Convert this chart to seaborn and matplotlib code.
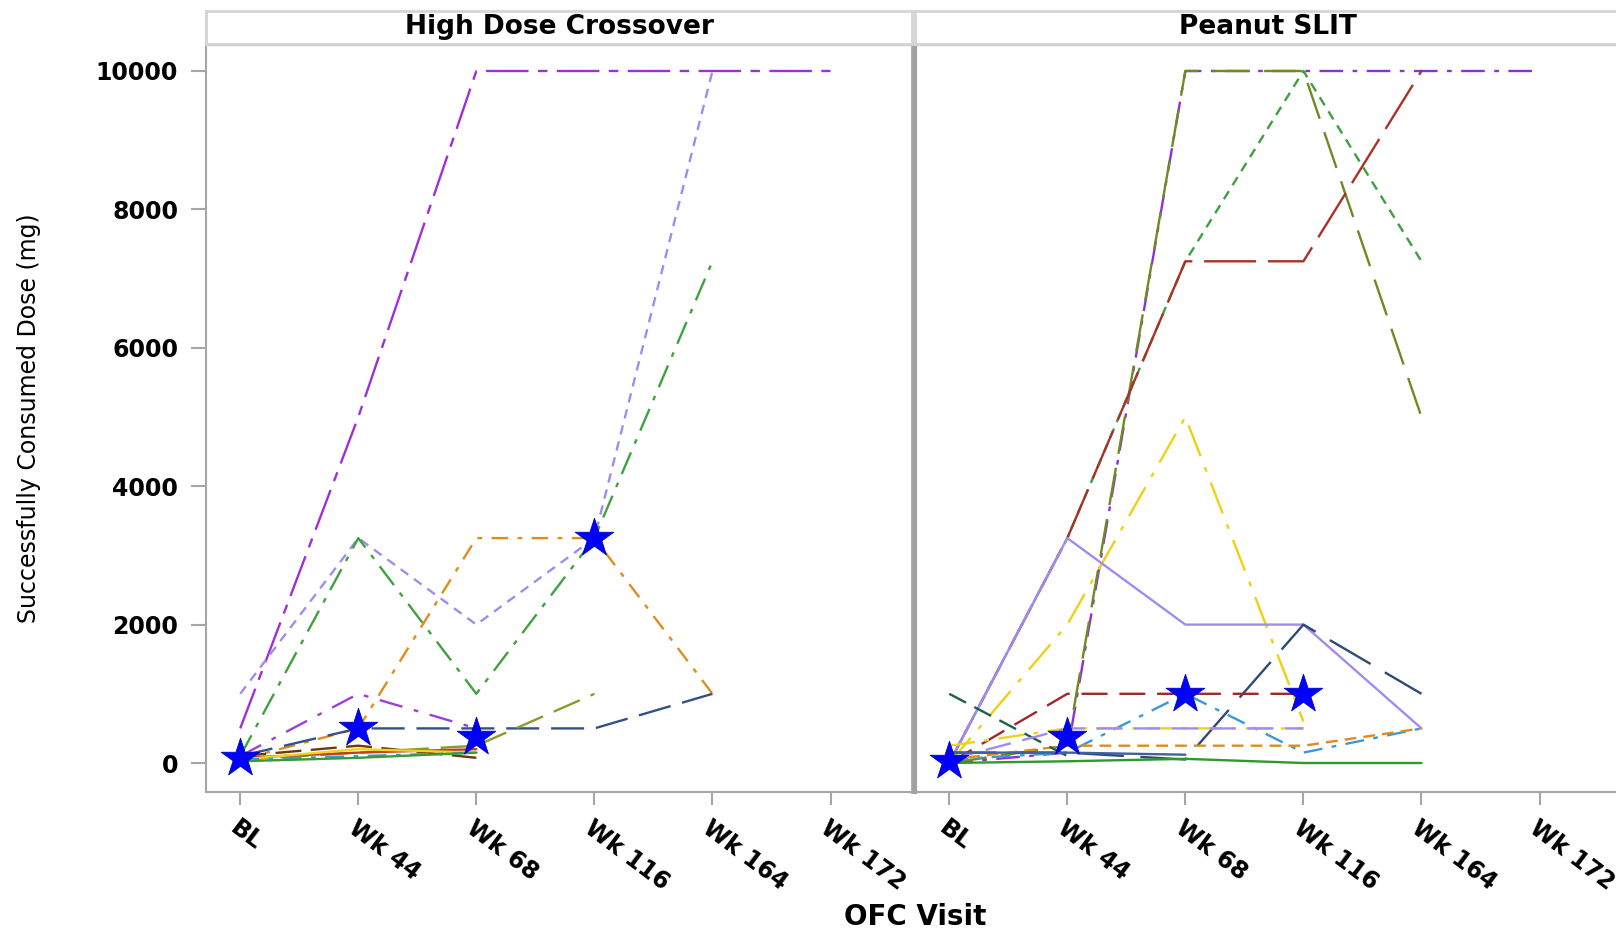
import matplotlib
matplotlib.use("Agg")
import matplotlib.pyplot as plt
import matplotlib.transforms as mtransforms
import numpy as np
import pandas as pd
import seaborn as sns

# ---------------- data ----------------
visits = ["BL", "Wk 44", "Wk 68", "Wk 116", "Wk 164", "Wk 172"]
panels = ["High Dose Crossover", "Peanut SLIT"]
y_ticks = [0, 2000, 4000, 6000, 8000, 10000]

# High Dose Crossover: successfully consumed dose (mg) per subject by visit
hd_s01 = [500, 5000, 10000, 10000, 10000, 10000]
hd_s02 = [1000, 3250, 2000, 3250, 10000]
hd_s03 = [100, 3250, 1000, 3250, 7250]
hd_s04 = [50, 500, 3250, 3250, 1000]
hd_s05 = [100, 1000, 500]
hd_s06 = [100, 500, 500, 500, 1000]
hd_s07 = [50, 150, 250, 1000]
hd_s08 = [100, 250, 75]
hd_s09 = [75, 150, 200]
hd_s10 = [50, 200, 150]
hd_s11 = [50, 100, 150]
hd_s12 = [25, 75, 150]
hd_star_visits = ["BL", "Wk 44", "Wk 68", "Wk 116"]
hd_star_dose = [75, 500, 375, 3250]

# Peanut SLIT
sl_s01 = [0, 150, 10000, 10000, 10000, 10000]
sl_s02 = [0, 250, 10000, 10000, 5000]
sl_s03 = [0, 3250, 7250, 10000, 7250]
sl_s04 = [0, 3250, 7250, 7250, 10000]
sl_s05 = [0, 2000, 5000, 600]
sl_s06 = [0, 3250, 2000, 2000, 500]
sl_s07 = [150, 150, 50, 2000, 1000]
sl_s08 = [0, 1000, 1000, 1000]
sl_s09 = [50, 150, 1000, 150, 500]
sl_s10 = [50, 250, 250, 250, 500]
sl_s11 = [0, 25, 60, 0, 0]
sl_s12 = [1000, 100]
sl_s13 = [250, 500, 500, 500]
sl_s14 = [50, 500, 500, 500]
sl_s15 = [150, 150, 120]
sl_star_visits = ["BL", "Wk 44", "Wk 68", "Wk 116"]
sl_star_dose = [25, 375, 1000, 1000]

hd_series = {"s01": hd_s01, "s02": hd_s02, "s03": hd_s03, "s04": hd_s04,
             "s05": hd_s05, "s06": hd_s06, "s07": hd_s07, "s08": hd_s08,
             "s09": hd_s09, "s10": hd_s10, "s11": hd_s11, "s12": hd_s12}
sl_series = {"s01": sl_s01, "s02": sl_s02, "s03": sl_s03, "s04": sl_s04,
             "s05": sl_s05, "s06": sl_s06, "s07": sl_s07, "s08": sl_s08,
             "s09": sl_s09, "s10": sl_s10, "s11": sl_s11, "s12": sl_s12,
             "s13": sl_s13, "s14": sl_s14, "s15": sl_s15}

# ---------------- styles ----------------
hd_colors = {"s01": "#9b30dc", "s02": "#a08cf0", "s03": "#3ea23e", "s04": "#e08c1c",
             "s05": "#9a40d8", "s06": "#34508c", "s07": "#8c9a28", "s08": "#6b3a10",
             "s09": "#c04020", "s10": "#f2d21c", "s11": "#35a0d8", "s12": "#3a9a3a"}
hd_dashes = {"s01": (18, 4, 4, 4), "s02": (4, 3), "s03": (10, 4, 2, 4), "s04": (7, 4, 2, 4),
             "s05": (10, 5, 2, 5), "s06": (14, 5), "s07": (12, 5), "s08": (11, 4),
             "s09": "", "s10": "", "s11": (8, 4, 2, 4), "s12": ""}
sl_colors = {"s01": "#8f2fd8", "s02": "#6f8a20", "s03": "#3ca03c", "s04": "#a83228",
             "s05": "#f0d010", "s06": "#a08cf0", "s07": "#2e4a78", "s08": "#a02828",
             "s09": "#3a9ad8", "s10": "#e08c1a", "s11": "#2e9a2e", "s12": "#1f6048",
             "s13": "#f0d21a", "s14": "#a08cf0", "s15": "#4060a0"}
sl_dashes = {"s01": (10, 4, 2, 4), "s02": (16, 6), "s03": (4, 3), "s04": (22, 5),
             "s05": (14, 5, 2, 5), "s06": "", "s07": (20, 7), "s08": (11, 5),
             "s09": (8, 4, 2, 4), "s10": (5, 3), "s11": "", "s12": (8, 4),
             "s13": (11, 4, 2, 4), "s14": (11, 5), "s15": ""}


def long_form(series):
    rows = []
    for subj, vals in series.items():
        for i, v in enumerate(vals):
            if v is not None:
                rows.append({"subject": subj, "visit": i, "dose": v})
    return pd.DataFrame(rows)


def star_frame(vis, dose):
    return pd.DataFrame({"visit": [visits.index(v) for v in vis], "dose": dose})


sns.set_theme(style="white")
plt.rcParams["font.family"] = ["DejaVu Sans"]
plt.rcParams["text.color"] = "black"
plt.rcParams["xtick.color"] = "black"
plt.rcParams["ytick.color"] = "black"
plt.rcParams["xtick.labelcolor"] = "black"
plt.rcParams["ytick.labelcolor"] = "black"

W, H = 1616, 933
fig = plt.figure(figsize=(W / 100, H / 100), dpi=100)
fig.patch.set_facecolor("white")


def rect(x0, y0, x1, y1):
    return [x0 / W, 1 - y1 / H, (x1 - x0) / W, (y1 - y0) / H]


axL = fig.add_axes(rect(206, 44, 912, 792))
axR = fig.add_axes(rect(915, 44, 1621, 792))
hdrL = fig.add_axes(rect(206, 11, 912, 44))
hdrR = fig.add_axes(rect(915, 11, 1621, 44))

spine_col = "#a6a6a6"
configs = [(axL, hdrL, panels[0], hd_series, hd_colors, hd_dashes, hd_star_visits, hd_star_dose),
           (axR, hdrR, panels[1], sl_series, sl_colors, sl_dashes, sl_star_visits, sl_star_dose)]

for ax, hdr, title, series, cols, dsh, sv, sd in configs:
    df = long_form(series)
    sns.lineplot(data=df, x="visit", y="dose", hue="subject", style="subject",
                 palette=cols, dashes=dsh, linewidth=1.7, legend=False,
                 errorbar=None, sort=False, ax=ax)
    sf = star_frame(sv, sd)
    sns.scatterplot(data=sf, x="visit", y="dose", marker="*", s=850,
                    color="#0000ff", edgecolor="#0000c0", linewidth=0.6,
                    ax=ax, zorder=10, legend=False)
    ax.set_xlim(-0.29, 5.69)
    ax.set_ylim(-419, 10390)
    ax.set_xticks(range(len(visits)))
    ax.set_xticklabels(visits, rotation=-37, ha="left", va="top",
                       rotation_mode="anchor", fontsize=17, fontweight="bold",
                       color="black")
    offset = mtransforms.ScaledTranslation(-8 / 72, 0, fig.dpi_scale_trans)
    for lab in ax.get_xticklabels():
        lab.set_transform(lab.get_transform() + offset)
    ax.tick_params(axis="x", direction="out", length=9, width=1.5, color=spine_col,
                   pad=8, bottom=True)
    ax.set_xlabel("")
    ax.set_ylabel("")
    ax.grid(False)
    for s in ["top", "bottom", "left", "right"]:
        ax.spines[s].set_color(spine_col)
        ax.spines[s].set_linewidth(1.5)
    ax.spines["top"].set_linewidth(2.5)
    ax.spines["top"].set_color("#c4c4c4")

    hdr.set_xticks([])
    hdr.set_yticks([])
    hdr.set_facecolor("white")
    for s in hdr.spines.values():
        s.set_color("#d4d4d4")
        s.set_linewidth(2)
    hdr.text(0.5, 0.5, title, transform=hdr.transAxes, ha="center", va="center",
             fontsize=19, fontweight="bold", color="black")

axL.set_yticks(y_ticks)
axL.set_yticklabels([str(v) for v in y_ticks], fontsize=17, fontweight="bold",
                    color="black")
axL.tick_params(axis="y", direction="out", length=11, width=1.5, color=spine_col,
                pad=9, left=True)
axL.spines["right"].set_linewidth(2)
axR.set_yticks(y_ticks)
axR.tick_params(axis="y", left=False, labelleft=False)
axR.spines["left"].set_linewidth(3)
axR.spines["left"].set_color("#a0a0a0")

fig.text(29 / W, 1 - 418 / H, "Successfully Consumed Dose (mg)", rotation=90,
         ha="center", va="center", fontsize=17, color="black")
fig.text(915 / W, 1 - 917 / H, "OFC Visit", ha="center", va="center",
         fontsize=20, fontweight="bold", color="black")

fig.savefig("out.png", dpi=100)
